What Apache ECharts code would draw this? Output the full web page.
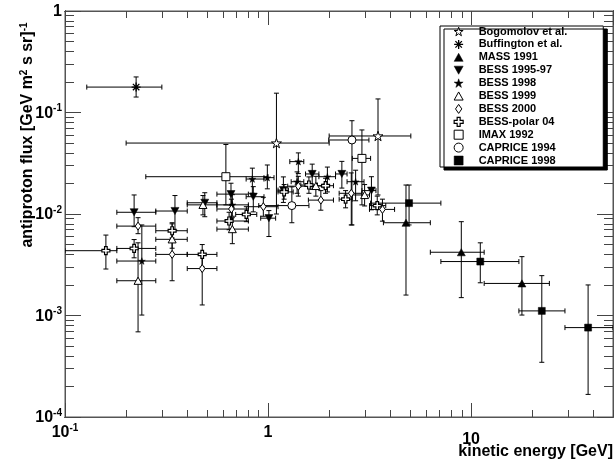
<!DOCTYPE html>
<html><head><meta charset="utf-8">
<script src="https://cdn.jsdelivr.net/npm/echarts/dist/echarts.min.js"></script>
<style>html,body{margin:0;padding:0;background:#fff}#c{width:614px;height:461px}</style>
</head><body><div id="c"></div>
<script>
// Each row: [kinetic energy GeV, flux, E low, E high, flux low, flux high]
const bogomolov = [
  [1.10, 0.050, 0.20, 2.0, 0.0100, 0.155],
  [3.48, 0.0587, 2.0, 5.05, 0.0154, 0.136]
];
const buffington = [
  [0.224, 0.178, 0.128, 0.30, 0.142, 0.224]
];
const mass1991 = [
  [4.78, 0.0082, 3.7, 6.3, 0.00159, 0.0193],
  [8.95, 0.0042, 6.3, 11.6, 0.0015, 0.0084],
  [17.8, 0.00207, 11.6, 24.3, 0.00101, 0.0038]
];
const bess9597 = [
  [0.219, 0.0104, 0.18, 0.28, 0.0075, 0.0154],
  [0.348, 0.0107, 0.28, 0.40, 0.0069, 0.0152],
  [0.488, 0.0129, 0.40, 0.56, 0.0094, 0.0162],
  [0.657, 0.0157, 0.56, 0.80, 0.0122, 0.0201],
  [0.846, 0.0148, 0.78, 0.955, 0.0105, 0.0186],
  [1.01, 0.0091, 0.92, 1.09, 0.0060, 0.0108],
  [1.19, 0.0172, 1.12, 1.26, 0.0130, 0.0232],
  [1.65, 0.0248, 1.53, 1.78, 0.0175, 0.031],
  [2.31, 0.0248, 2.15, 2.45, 0.018, 0.033],
  [3.23, 0.0170, 2.90, 3.40, 0.0110, 0.0233]
];
const bess1998 = [
  [0.239, 0.00344, 0.18, 0.28, 0.00101, 0.0078],
  [0.667, 0.0123, 0.56, 0.80, 0.0095, 0.0155],
  [0.837, 0.0221, 0.78, 0.955, 0.016, 0.0283],
  [0.992, 0.0228, 0.955, 1.07, 0.0177, 0.0304],
  [1.39, 0.0208, 1.30, 1.50, 0.016, 0.026],
  [1.41, 0.0328, 1.28, 1.50, 0.025, 0.040],
  [1.96, 0.0233, 1.78, 2.15, 0.0165, 0.029],
  [2.70, 0.0208, 2.45, 2.97, 0.0135, 0.027]
];
const bess1999 = [
  [0.229, 0.0022, 0.18, 0.28, 0.00069, 0.0052],
  [0.337, 0.00563, 0.28, 0.40, 0.0046, 0.0069],
  [0.478, 0.0123, 0.40, 0.56, 0.0098, 0.0152],
  [0.667, 0.0071, 0.56, 0.80, 0.0051, 0.0092],
  [1.72, 0.0189, 1.58, 1.87, 0.0150, 0.0235],
  [2.99, 0.0154, 2.60, 3.16, 0.0120, 0.0195]
];
const bess2000 = [
  [0.229, 0.0076, 0.18, 0.28, 0.0064, 0.0092],
  [0.337, 0.0040, 0.28, 0.40, 0.0022, 0.0082],
  [0.474, 0.0029, 0.40, 0.56, 0.00127, 0.0040],
  [0.66, 0.0112, 0.56, 0.80, 0.0090, 0.0140],
  [0.948, 0.0118, 0.80, 1.12, 0.0095, 0.0146],
  [1.41, 0.0188, 1.25, 1.58, 0.0150, 0.0235],
  [1.82, 0.0137, 1.58, 2.10, 0.0109, 0.0170],
  [2.57, 0.0160, 2.24, 2.90, 0.0078, 0.0254],
  [3.66, 0.0111, 3.16, 4.2, 0.0085, 0.0140]
];
const bessPolar04 = [
  [0.159, 0.00435, 0.10, 0.18, 0.00287, 0.0062],
  [0.219, 0.00458, 0.18, 0.28, 0.0037, 0.0056],
  [0.337, 0.00684, 0.28, 0.40, 0.0058, 0.0080],
  [0.474, 0.0040, 0.40, 0.56, 0.0030, 0.0050],
  [0.643, 0.00853, 0.56, 0.80, 0.0070, 0.0104],
  [0.782, 0.0099, 0.693, 0.88, 0.0084, 0.0118],
  [1.20, 0.0165, 1.12, 1.33, 0.0140, 0.0195],
  [1.59, 0.0193, 1.45, 1.75, 0.0160, 0.0232],
  [1.92, 0.0190, 1.75, 2.10, 0.0160, 0.0225],
  [2.41, 0.0140, 2.24, 2.60, 0.0115, 0.0170],
  [3.45, 0.0121, 3.16, 3.80, 0.0098, 0.0150]
];
const imax1992 = [
  [0.62, 0.0233, 0.25, 1.0, 0.0123, 0.0484],
  [2.90, 0.0353, 2.60, 3.20, 0.0123, 0.0673]
];
const caprice1994 = [
  [1.31, 0.0121, 0.90, 1.59, 0.0082, 0.0185],
  [2.59, 0.0536, 1.99, 3.14, 0.0078, 0.083]
];
const caprice1998 = [
  [4.95, 0.0128, 3.2, 7.1, 0.0078, 0.0193],
  [11.1, 0.0034, 7.1, 17.2, 0.0021, 0.0052],
  [22.3, 0.00111, 17.2, 29.0, 0.000346, 0.00247],
  [37.7, 0.00076, 29.0, 50, 0.000167, 0.0020]
];

const experimentNames = ['Bogomolov et al.', 'Buffington et al.', 'MASS 1991', 'BESS 1995-97',
  'BESS 1998', 'BESS 1999', 'BESS 2000', 'BESS-polar 04', 'IMAX 1992', 'CAPRICE 1994', 'CAPRICE 1998'];
const experimentData = [bogomolov, buffington, mass1991, bess9597, bess1998, bess1999, bess2000,
  bessPolar04, imax1992, caprice1994, caprice1998];

// tick labels (powers of ten) and the minor-tick multipliers inside each decade
const xTickExponents = [-1, 0, 1];
const yTickExponents = [-4, -3, -2, -1, 0];
const minorTickMultipliers = [2, 3, 4, 5, 6, 7, 8, 9];
const X_MIN = 0.1, X_MAX = 50, Y_MIN = 1e-4, Y_MAX = 1;

// ---------- styles ----------
const FONT = "'Liberation Sans', Arial, Helvetica, sans-serif";
const STAR = 'path://M0,-1L0.223,-0.307L0.951,-0.309L0.361,0.117L0.588,0.809L0,0.38L-0.588,0.809L-0.361,0.117L-0.951,-0.309L-0.223,-0.307Z';
const AST = 'path://M-1,0L1,0M0,-1L0,1M-0.72,-0.72L0.72,0.72M-0.72,0.72L0.72,-0.72';
const TRIDOWN = 'path://M-1,-0.9L1,-0.9L0,0.9Z';
const TRIUP = 'path://M-1,0.9L1,0.9L0,-0.9Z';
const CROSS = 'path://M-1,-0.33L-0.33,-0.33L-0.33,-1L0.33,-1L0.33,-0.33L1,-0.33L1,0.33L0.33,0.33L0.33,1L-0.33,1L-0.33,0.33L-1,0.33Z';
const DIAMOND = 'path://M0,-1L0.7,0L0,1L-0.7,0Z';
const SQUARE = 'path://M-1,-1L1,-1L1,1L-1,1Z';
const markerStyle = {
  'Bogomolov et al.': {symbol: STAR, size: 10, fill: '#fff', bw: 1},
  'Buffington et al.': {symbol: AST, size: 9, fill: 'rgba(0,0,0,0)', bw: 1.3},
  'MASS 1991': {symbol: TRIUP, size: 8, fill: '#000', bw: 0.5},
  'BESS 1995-97': {symbol: TRIDOWN, size: 8, fill: '#000', bw: 0.5},
  'BESS 1998': {symbol: STAR, size: 7, fill: '#000', bw: 0.5},
  'BESS 1999': {symbol: TRIUP, size: 8, fill: '#fff', bw: 1},
  'BESS 2000': {symbol: DIAMOND, size: 8, fill: '#fff', bw: 1},
  'BESS-polar 04': {symbol: CROSS, size: 8, fill: '#fff', bw: 1.2},
  'IMAX 1992': {symbol: SQUARE, size: 8, fill: '#fff', bw: 1},
  'CAPRICE 1994': {symbol: 'circle', size: 8, fill: '#fff', bw: 1},
  'CAPRICE 1998': {symbol: SQUARE, size: 7, fill: '#000', bw: 0.5}
};
const TICK_COLOR = '#444';
const FRAME_COLOR = '#555';
const X_MAJOR_LEN = 14, X_MINOR_LEN = 7, Y_MAJOR_LEN = 16, Y_MINOR_LEN = 9;

function supLabel(exp, big) {
  if (exp === 0) return '{b|1}';
  if (big) return '{t|10}';
  return '{b|10}{s|' + exp + '}';
}
const richLabel = {
  b: {fontSize: 16, fontWeight: 'bold', fontFamily: FONT, color: '#000', lineHeight: 18, verticalAlign: 'bottom'},
  s: {fontSize: 10, fontWeight: 'bold', fontFamily: FONT, color: '#000', lineHeight: 18, verticalAlign: 'top'},
  t: {fontSize: 16, fontWeight: 'bold', fontFamily: FONT, color: '#000', lineHeight: 18, padding: [16, 0, 0, 0]}
};

function renderErrorBar(params, api) {
  const c = api.coord([api.value(0), api.value(1)]);
  const l = api.coord([api.value(2), api.value(1)]);
  const r = api.coord([api.value(3), api.value(1)]);
  const b = api.coord([api.value(0), api.value(4)]);
  const t = api.coord([api.value(0), api.value(5)]);
  const cap = 2.5;
  const st = {stroke: '#000', lineWidth: 1};
  const seg = (x1, y1, x2, y2) => ({type: 'line', shape: {x1, y1, x2, y2}, style: st});
  return {type: 'group', children: [
    seg(l[0], c[1], r[0], c[1]),
    seg(c[0], t[1], c[0], b[1]),
    seg(l[0], c[1] - cap, l[0], c[1] + cap),
    seg(r[0], c[1] - cap, r[0], c[1] + cap),
    seg(c[0] - cap, t[1], c[0] + cap, t[1]),
    seg(c[0] - cap, b[1], c[0] + cap, b[1])
  ]};
}

const series = [];
experimentNames.forEach((name, i) => {
  const ms = markerStyle[name];
  series.push({
    name, type: 'scatter', data: experimentData[i].map(r => [r[0], r[1]]),
    symbol: ms.symbol, symbolSize: ms.size, symbolKeepAspect: true, z: 5,
    itemStyle: {color: ms.fill, borderColor: '#000', borderWidth: ms.bw, opacity: 1},
    emphasis: {disabled: true}, silent: true
  });
});
experimentNames.forEach((name, i) => {
  series.push({
    name, type: 'custom', data: experimentData[i], renderItem: renderErrorBar,
    encode: {x: 0, y: 1}, z: 3, clip: true, silent: true
  });
});

// ---------- axes: main axes carry labels + decade ticks; companion log axes scaled by
// each multiplier m put their decade ticks at m*10^k, giving ROOT-style minor ticks ----------
function logAxis(min, max, position, len, label) {
  return {
    type: 'log', logBase: 10, min, max, position, splitNumber: 5,
    axisLine: {show: true, onZero: false, lineStyle: {color: FRAME_COLOR, width: 1}},
    splitLine: {show: false}, minorTick: {show: false},
    axisTick: {show: true, inside: true, length: len, lineStyle: {color: TICK_COLOR, width: 1}},
    axisLabel: label || {show: false},
    axisPointer: {show: false}
  };
}
const xLabel = {
  margin: 6, showMaxLabel: false, hideOverlap: false, rich: richLabel,
  formatter: v => {
    const e = Math.round(Math.log10(v));
    return (xTickExponents.indexOf(e) >= 0 && Math.abs(v - Math.pow(10, e)) < 1e-9 * Math.pow(10, e)) ? supLabel(e, e === 1) : '';
  }
};
const yLabel = {
  margin: 3, hideOverlap: false, rich: richLabel,
  formatter: v => {
    const e = Math.round(Math.log10(v));
    return yTickExponents.indexOf(e) >= 0 ? supLabel(e, false) : '';
  }
};
const xAxes = [logAxis(X_MIN, X_MAX, 'bottom', X_MAJOR_LEN, xLabel), logAxis(X_MIN, X_MAX, 'top', X_MAJOR_LEN)];
const yAxes = [logAxis(Y_MIN, Y_MAX, 'left', Y_MAJOR_LEN, yLabel), logAxis(Y_MIN, Y_MAX, 'right', Y_MAJOR_LEN)];
minorTickMultipliers.forEach(m => {
  xAxes.push(logAxis(X_MIN / m, X_MAX / m, 'bottom', X_MINOR_LEN));
  xAxes.push(logAxis(X_MIN / m, X_MAX / m, 'top', X_MINOR_LEN));
  yAxes.push(logAxis(Y_MIN / m, Y_MAX / m, 'left', Y_MINOR_LEN));
  yAxes.push(logAxis(Y_MIN / m, Y_MAX / m, 'right', Y_MINOR_LEN));
});

const option = {
  animation: false,
  backgroundColor: '#fff',
  grid: {left: 65, right: 1, top: 11, bottom: 44, show: true, borderColor: FRAME_COLOR, borderWidth: 1,
    backgroundColor: 'transparent', containLabel: false, outerBoundsMode: 'none'},
  xAxis: xAxes,
  yAxis: yAxes,
  legend: {
    orient: 'vertical', left: 440, top: 26,
    padding: [0, 36, 1, 13.5], itemWidth: 9, itemHeight: 9, itemGap: 1.9,
    backgroundColor: '#fff', borderColor: '#000', borderWidth: 1,
    shadowColor: '#000', shadowBlur: 0, shadowOffsetX: 4, shadowOffsetY: 3,
    selectedMode: false, z: 10,
    textStyle: {fontFamily: FONT, fontSize: 11, fontWeight: 'bold', color: '#000', padding: [0, 0, 0, 10.5]},
    data: experimentNames.map(n => ({
      name: n, icon: markerStyle[n].symbol,
      itemStyle: {color: markerStyle[n].fill, borderColor: '#000', borderWidth: markerStyle[n].bw}
    }))
  },
  graphic: [
    {type: 'text', x: 28, y: 135, rotation: Math.PI / 2, silent: true,
     style: {text: 'antiproton flux [GeV m{s|2} s sr]{s|-1}', align: 'center', verticalAlign: 'middle',
       fontFamily: FONT, fontSize: 16, fontWeight: 'bold', fill: '#000',
       rich: {s: {fontSize: 10, fontWeight: 'bold', fontFamily: FONT, verticalAlign: 'top', lineHeight: 18}}}},
    {type: 'text', x: 613, y: 452, silent: true,
     style: {text: 'kinetic energy [GeV]', align: 'right', verticalAlign: 'middle',
       fontFamily: FONT, fontSize: 16, fontWeight: 'bold', fill: '#000'}}
  ],
  series
};
const chart = echarts.init(document.getElementById('c'), null, {renderer: 'canvas'});
chart.setOption(option);
</script></body></html>
